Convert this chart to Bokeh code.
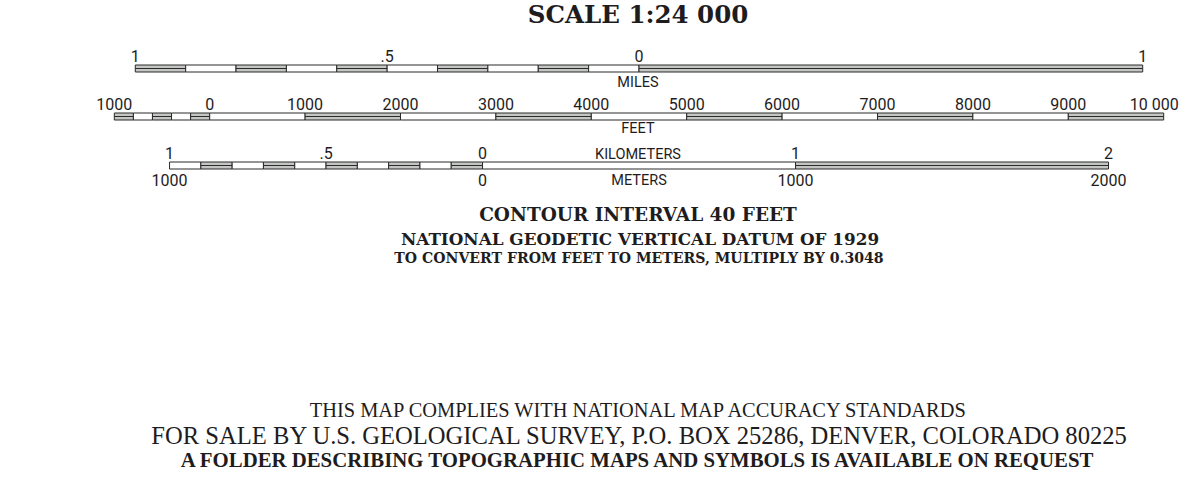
from bokeh.plotting import figure
from bokeh.models import Range1d
from bokeh.embed import file_html
from bokeh.resources import INLINE
from bokeh.core.properties import value

# ---------------- data ----------------
FT_PER_MILE = 5280.0
FT_PER_M = 3.28084

mile_ticks = [-1.0, -0.5, 0.0, 1.0]
mile_labels = ["1", ".5", "0", "1"]
mile_edges = [-1.0, -0.9, -0.8, -0.7, -0.6, -0.5, -0.4, -0.3, -0.2, -0.1, 0.0, 1.0]
mile_ruled = [1, 0, 1, 0, 1, 0, 1, 0, 1, 0, 1]

feet_ticks = [-1000, 0, 1000, 2000, 3000, 4000, 5000, 6000, 7000, 8000, 9000]
feet_labels = ["1000", "0", "1000", "2000", "3000", "4000", "5000", "6000", "7000", "8000", "9000"]
feet_end_tick = 10000
feet_end_label = "10 000"
feet_edges = [-1000, -800, -600, -400, -200, 0, 1000, 2000, 3000, 4000, 5000, 6000, 7000, 8000, 9000, 10000]
feet_ruled = [1, 0, 1, 0, 1, 0, 1, 0, 1, 0, 1, 0, 1, 0, 1]

km_ticks = [-1.0, -0.5, 0.0, 1.0, 2.0]
km_labels = ["1", ".5", "0", "1", "2"]
km_edges = [-1.0, -0.9, -0.8, -0.7, -0.6, -0.5, -0.4, -0.3, -0.2, -0.1, 0.0, 1.0, 2.0]
km_ruled = [0, 1, 0, 1, 0, 1, 0, 1, 0, 1, 0, 1]

m_ticks = [-1000, 0, 1000, 2000]
m_labels = ["1000", "0", "1000", "2000"]

title_text = "SCALE 1:24 000"
contour_text = "CONTOUR INTERVAL 40 FEET"
datum_text = "NATIONAL GEODETIC VERTICAL DATUM OF 1929"
convert_text = "TO CONVERT FROM FEET TO METERS, MULTIPLY BY 0.3048"
foot_lines = [
    "THIS MAP COMPLIES WITH NATIONAL MAP ACCURACY STANDARDS",
    "FOR SALE BY U.S. GEOLOGICAL SURVEY, P.O. BOX 25286, DENVER, COLORADO 80225",
    "A FOLDER DESCRIBING TOPOGRAPHIC MAPS AND SYMBOLS IS AVAILABLE ON REQUEST",
]

# ---------------- layout ----------------
W, H = 1179, 470
PX_PER_FT = 0.0954
ZERO_PX = 638.5            # miles zero, in pixels
MILE_ORIGIN = 0.0          # bar origins, in feet from the miles zero
FEET_ORIGIN = -4500.0
KM_ORIGIN = -1640.0

x0 = -ZERO_PX / PX_PER_FT
x1 = x0 + W / PX_PER_FT
PX = 1.0 / PX_PER_FT       # feet per pixel

p = figure(width=W, height=H, output_backend="svg", toolbar_location=None,
           x_range=Range1d(x0, x1), y_range=Range1d(H, 0),
           x_axis_type=None, y_axis_type=None, min_border=0)
p.grid.visible = False
p.outline_line_color = None
p.background_fill_color = "white"
p.border_fill_color = "white"

INK = "#1e1c1d"
BAR_LINE = "#2a2a2a"
RULE_FILL = "#c4c6c4"
SANS = "Roboto"
SERIF = "DejaVu Serif"
SERIF_B = "Liberation Serif"


def ty(baseline, size):
    # vertical position that puts the text's baseline at `baseline`
    return baseline - 0.4 * size


def draw_bar(edges, ruled, unit_ft, origin, top, bottom):
    lefts = [origin + e * unit_ft for e in edges[:-1]]
    rights = [origin + e * unit_ft for e in edges[1:]]
    fills = [RULE_FILL if r else "white" for r in ruled]
    p.quad(left=lefts, right=rights, top=top, bottom=bottom,
           fill_color=fills, line_color=BAR_LINE, line_width=1)
    rl = [l for l, r in zip(lefts, ruled) if r]
    rr = [rt for rt, r in zip(rights, ruled) if r]
    mid = (top + bottom) / 2.0
    p.segment(x0=rl, x1=rr, y0=mid, y1=mid, line_color=BAR_LINE, line_width=1)


def labels(ticks, texts, unit_ft, origin, baseline, size, align="center", dx=0.0):
    p.text(x=[origin + t * unit_ft + dx for t in ticks], y=[ty(baseline, size)] * len(ticks),
           text=texts, text_font=value(SANS), text_font_size=f"{size}px", text_align=align,
           text_baseline="alphabetic", text_color=INK)


def center_text(t, baseline, size, font, style="bold", x=0.0):
    p.text(x=[x], y=[ty(baseline, size)], text=[t], text_font=value(font),
           text_font_size=f"{size}px", text_font_style=style, text_align="center",
           text_baseline="alphabetic", text_color=INK)


NUM = 16
UNIT = 14.5

# title
center_text(title_text, 24, 24.5, SERIF, x=-1 * PX)

# miles
draw_bar(mile_edges, mile_ruled, FT_PER_MILE, MILE_ORIGIN, 64.5, 71.5)
labels(mile_ticks, mile_labels, FT_PER_MILE, MILE_ORIGIN, 62, NUM)
center_text("MILES", 88, UNIT, SANS, style="normal", x=-1 * PX)

# feet
draw_bar(feet_edges, feet_ruled, 1.0, FEET_ORIGIN, 112.5, 119.5)
labels(feet_ticks, feet_labels, 1.0, FEET_ORIGIN, 110, NUM)
labels([feet_end_tick], [feet_end_label], 1.0, FEET_ORIGIN, 110, NUM, align="right", dx=15 * PX)
center_text("FEET", 134, UNIT, SANS, style="normal", x=-1 * PX)

# kilometres / metres
draw_bar(km_edges, km_ruled, 1000 * FT_PER_M, KM_ORIGIN, 161.5, 168.5)
labels(km_ticks, km_labels, 1000 * FT_PER_M, KM_ORIGIN, 159, NUM)
labels(m_ticks, m_labels, FT_PER_M, KM_ORIGIN, 186, NUM)
center_text("KILOMETERS", 160, UNIT, SANS, style="normal", x=-1 * PX)
center_text("METERS", 186, UNIT, SANS, style="normal", x=0)

# notes
center_text(contour_text, 221, 18.5, SERIF, x=-1 * PX)
center_text(datum_text, 245, 16.8, SERIF, x=1 * PX)
center_text(convert_text, 263.5, 14.1, SERIF)

center_text(foot_lines[0], 417.5, 20.4, SERIF_B, style="normal", x=1 * PX)
center_text(foot_lines[1], 444.5, 24.6, SERIF_B, style="normal", x=1 * PX)
center_text(foot_lines[2], 467, 20.8, SERIF_B, style="bold", x=0)

open("out.html", "w").write(file_html(p, INLINE))
